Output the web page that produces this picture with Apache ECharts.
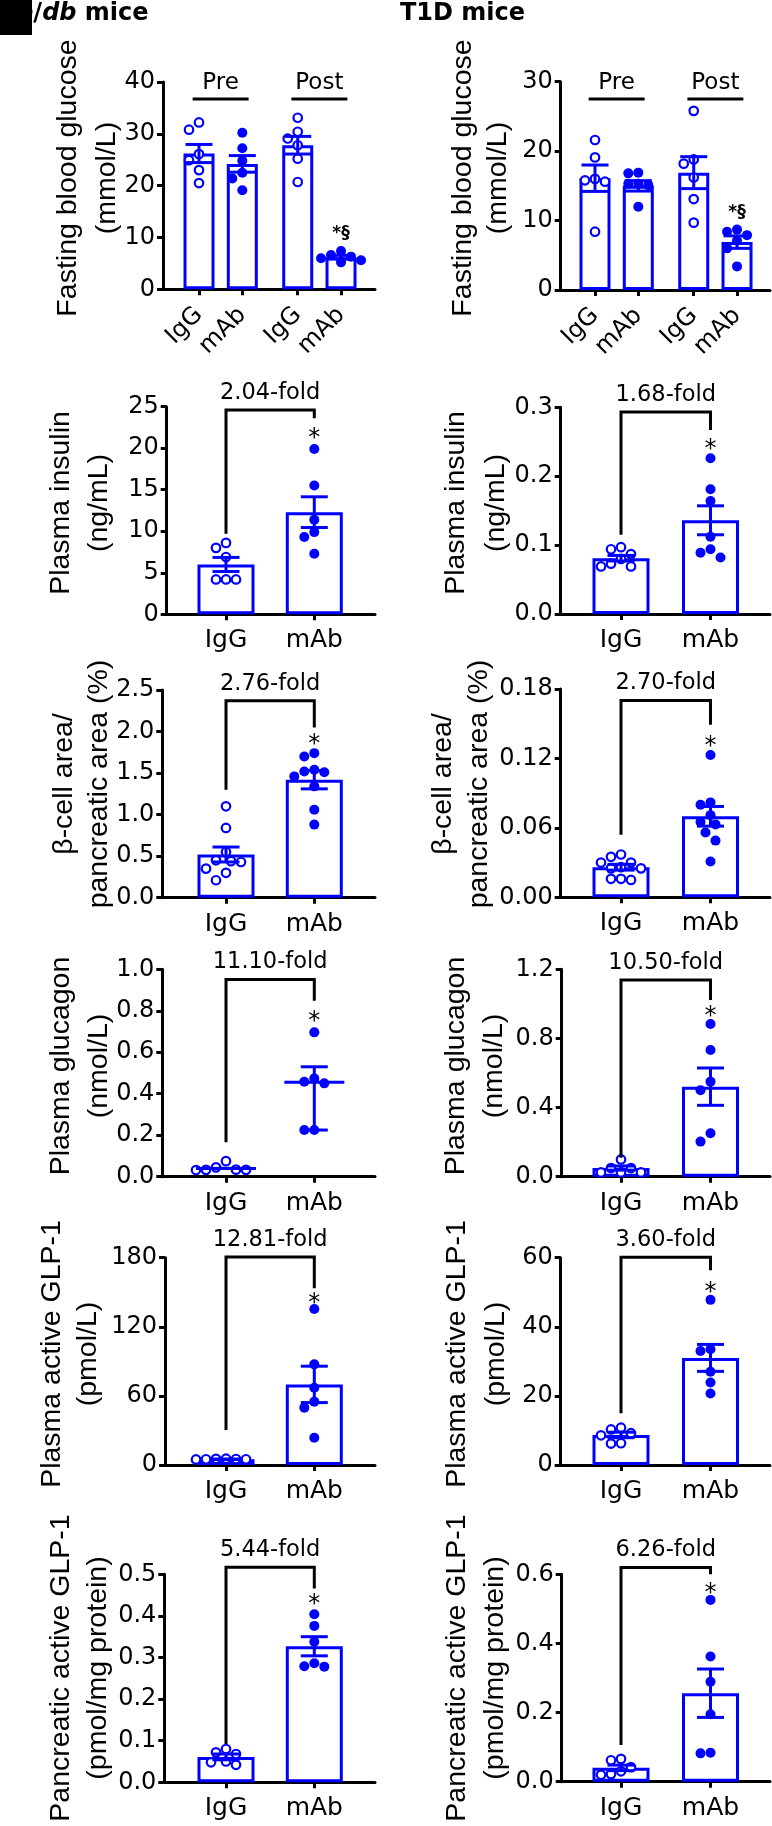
<!DOCTYPE html>
<html><head><meta charset="utf-8">
<script src="https://cdn.jsdelivr.net/npm/echarts@6/dist/echarts.min.js"></script>
<style>html,body{margin:0;padding:0;background:#fff}#c{width:772px;height:1826px}</style>
</head><body><div id="c"></div>
<script>
// ================= DATA =================
const labels4 = ['IgG', 'mAb', 'IgG', 'mAb'];
const labels2 = ['IgG', 'mAb'];
const phaseLabels = ['Pre', 'Post'];

// db/db fasting blood glucose (mmol/L)
const dbGlucoseTicks = ['0', '10', '20', '30', '40'];
const dbGlucoseMean = [26.2, 24.2, 27.8, 6.2];
const dbGlucoseSem = [1.75, 1.6, 1.7, 0.35];
const dbGlucoseDots = [
  [30.8, 32.2, 26.1, 24.9, 23.0, 20.5],
  [30.2, 27.2, 24.8, 22.5, 21.4, 19.1],
  [33.1, 29.1, 30.4, 27.8, 25.2, 20.7],
  [7.4, 6.6, 6.3, 6.0, 5.2, 5.6]
];
const dbGlucosePhaseY = [36.7, 36.7];
const dbGlucoseMarkY = 10.8;

// T1D fasting blood glucose (mmol/L)
const t1dGlucoseTicks = ['0', '10', '20', '30'];
const t1dGlucoseMean = [16.1, 15.0, 16.9, 6.9];
const t1dGlucoseSem = [1.9, 0.75, 2.3, 0.9];
const t1dGlucoseDots = [
  [21.6, 19.1, 15.8, 15.6, 16.0, 8.4],
  [16.8, 16.9, 15.3, 15.1, 15.3, 12.0],
  [25.8, 18.8, 18.2, 16.2, 13.1, 9.7],
  [8.7, 7.9, 8.4, 7.1, 6.0, 3.4]
];
const t1dGlucosePhaseY = [27.5, 27.5];
const t1dGlucoseMarkY = 11.1;

// Plasma insulin (ng/mL)
const dbInsulinTicks = ['0', '5', '10', '15', '20', '25'];
const dbInsulinMean = [6.0, 12.3];
const dbInsulinSem = [0.85, 1.85];
const dbInsulinDots = [[8.6, 8.0, 6.9, 4.2, 4.2, 4.2], [19.9, 15.5, 11.4, 9.9, 9.3, 7.3]];
const dbInsulinBracket = [9.7, 24.6, 23.6, 21.9];
const t1dInsulinTicks = ['0.0', '0.1', '0.2', '0.3'];
const t1dInsulinMean = [0.081, 0.136];
const t1dInsulinSem = [0.004, 0.021];
const t1dInsulinDots = [[0.097, 0.094, 0.087, 0.080, 0.073, 0.069, 0.069], [0.226, 0.181, 0.164, 0.112, 0.094, 0.089, 0.082]];
const t1dInsulinBracket = [0.115, 0.293, 0.267, 0.247];

// beta-cell area / pancreatic area (%)
const dbBetaTicks = ['0.0', '0.5', '1.0', '1.5', '2.0', '2.5'];
const dbBetaMean = [0.52, 1.42];
const dbBetaSem = [0.09, 0.11];
const dbBetaDots = [[1.10, 0.84, 0.55, 0.45, 0.44, 0.43, 0.35, 0.30, 0.21], [1.74, 1.70, 1.54, 1.52, 1.51, 1.46, 1.34, 1.06, 0.88]];
const dbBetaBracket = [1.30, 2.37, 2.05, 1.91];
const t1dBetaTicks = ['0.00', '0.06', '0.12', '0.18'];
const t1dBetaMean = [0.026, 0.070];
const t1dBetaSem = [0.0025, 0.0085];
const t1dBetaDots = [[0.037, 0.035, 0.030, 0.030, 0.026, 0.025, 0.025, 0.016, 0.016, 0.015], [0.123, 0.082, 0.080, 0.071, 0.065, 0.063, 0.056, 0.049, 0.031]];
const t1dBetaBracket = [0.054, 0.170, 0.149, 0.135];

// Plasma glucagon (nmol/L)
const dbGlucagonTicks = ['0.0', '0.2', '0.4', '0.6', '0.8', '1.0'];
const dbGlucagonCenter = [0.040, 0.455];
const dbGlucagonLow = [0.040, 0.225];
const dbGlucagonHigh = [0.040, 0.530];
const dbGlucagonDots = [[0.075, 0.045, 0.034, 0.033, 0.033, 0.032], [0.696, 0.474, 0.458, 0.450, 0.225, 0.225]];
const dbGlucagonBracket = [0.166, 0.951, 0.848, 0.775];
const t1dGlucagonTicks = ['0.0', '0.4', '0.8', '1.2'];
const t1dGlucagonMean = [0.050, 0.521];
const t1dGlucagonSem = [0.012, 0.108];
const t1dGlucagonDots = [[0.10, 0.05, 0.05, 0.025, 0.025, 0.025], [0.884, 0.733, 0.55, 0.50, 0.251, 0.203]];
const t1dGlucagonBracket = [0.11, 1.138, 1.023, 0.96];

// Plasma active GLP-1 (pmol/L)
const dbGlp1Ticks = ['0', '60', '120', '180'];
const dbGlp1Mean = [5.0, 70.0];
const dbGlp1Sem = [0.2, 15.8];
const dbGlp1Dots = [[5.5, 5.2, 5.0, 4.8, 5.0, 5.4], [135.4, 87.4, 67.1, 55.0, 49.8, 23.7]];
const dbGlp1Bracket = [30.4, 180.5, 153.4, 145.2];
const t1dGlp1Ticks = ['0', '20', '40', '60'];
const t1dGlp1Mean = [8.7, 31.0];
const t1dGlp1Sem = [0.8, 3.9];
const t1dGlp1Dots = [[10.3, 10.8, 9.2, 8.6, 6.2, 6.3], [47.8, 33.0, 33.5, 27.0, 23.9, 20.7]];
const t1dGlp1Bracket = [15.0, 60.1, 56.4, 51.6];

// Pancreatic active GLP-1 (pmol/mg protein)
const dbPancTicks = ['0.0', '0.1', '0.2', '0.3', '0.4', '0.5'];
const dbPancMean = [0.061, 0.327];
const dbPancSem = [0.007, 0.023];
const dbPancDots = [[0.080, 0.072, 0.068, 0.050, 0.048, 0.042], [0.404, 0.376, 0.338, 0.286, 0.279, 0.278]];
const dbPancBracket = [0.092, 0.517, 0.466, 0.44];
const t1dPancTicks = ['0.0', '0.2', '0.4', '0.6'];
const t1dPancMean = [0.040, 0.256];
const t1dPancSem = [0.008, 0.07];
const t1dPancDots = [[0.066, 0.062, 0.042, 0.030, 0.022, 0.020], [0.526, 0.362, 0.289, 0.195, 0.084, 0.082]];
const t1dPancBracket = [0.106, 0.62, 0.60, 0.56];

// ================= CHART =================
const BLUE = '#0000ff';
const FONT = '"DejaVu Sans", sans-serif';
const NAME_FONT = '"Liberation Sans", Arial, sans-serif';
const chart = echarts.init(document.getElementById('c'), null, {renderer: 'canvas', width: 772, height: 1826});
const option = {animation: false, backgroundColor: '#ffffff', grid: [], xAxis: [], yAxis: [], series: [], graphic: []};

function nearestIndex(arr, v) {
  let b = 0;
  for (let k = 1; k < arr.length; k++) if (Math.abs(arr[k] - v) < Math.abs(arr[b] - v)) b = k;
  return b;
}
// simple beeswarm: horizontal pixel offsets so that dots do not overlap
function swarm(vals, ppu) {
  const D = 10, STEP = 5, placed = [], off = vals.map(() => 0);
  const order = vals.map((v, k) => k).sort((a, b) => vals[b] - vals[a]);
  for (const k of order) {
    const y = vals[k] * ppu;
    for (let n = 0; n < 60; n++) {
      const c = n === 0 ? 0 : (n % 2 ? -1 : 1) * Math.ceil(n / 2) * STEP;
      if (placed.every(p => Math.hypot(p[0] - c, p[1] - y) >= D)) { off[k] = c; placed.push([c, y]); break; }
    }
  }
  return off;
}
const sub = (a, b) => a.map((v, k) => v - b[k]);
const add = (a, b) => a.map((v, k) => v + b[k]);

function addPanel(p) {
  const i = option.grid.length;
  const tv = p.ticks.map(Number);
  const yMin = tv[0], yMax = tv[tv.length - 1], yInt = tv[1] - tv[0];
  const h = p.bottom - p.top;
  option.grid.push({left: p.left, top: p.top, width: p.right - p.left, height: h, containLabel: false, outerBoundsMode: 'none'});
  const pos = p.pos;
  const xMin = pos[0] - (p.tick0 - p.left) / p.unit;
  const xMax = pos[0] + (p.right - p.tick0) / p.unit;
  option.xAxis.push({
    type: 'value', gridIndex: i, min: xMin, max: xMax, splitLine: {show: false},
    axisLine: {show: true, onZero: false, lineStyle: {color: '#000', width: 3}},
    axisTick: {show: true, customValues: pos, length: 6, lineStyle: {color: '#000', width: 3}},
    axisLabel: {show: true, customValues: pos, formatter: v => p.labels[nearestIndex(pos, v)],
      rotate: p.rotate || 0, margin: p.rotate ? 22 : 14, color: '#000', fontSize: p.rotate ? 24 : 25, fontFamily: FONT}
  });
  option.yAxis.push({
    type: 'value', gridIndex: i, min: yMin, max: yMax, interval: yInt,
    axisLine: {show: true, onZero: false, lineStyle: {color: '#000', width: 3}},
    axisTick: {show: true, length: 6, lineStyle: {color: '#000', width: 3}},
    axisLabel: {show: true, margin: 8, fontSize: 24, fontFamily: FONT, color: '#000', formatter: v => p.ticks[nearestIndex(tv, v)]},
    splitLine: {show: false}
  });
  // y-axis title: two rotated lines
  p.yName.forEach((t, k) => option.graphic.push({type: 'text', x: p.nameX[k], y: p.nameY, rotation: Math.PI / 2, z: 10, silent: true,
    style: {text: t, fontSize: 28.5, fontFamily: NAME_FONT, fill: '#000', align: 'center', verticalAlign: 'middle'}}));
  const xy = {xAxisIndex: i, yAxisIndex: i};
  if (p.mean) {
    option.series.push({type: 'bar', ...xy, barWidth: p.barW, z: 1, silent: true,
      data: pos.map((x, g) => [x, p.mean[g]]),
      itemStyle: {color: '#ffffff', borderColor: BLUE, borderWidth: 3}});
  }
  const ppu = h / (yMax - yMin);
  [true, false].forEach(open => {
    const data = [];
    p.dots.forEach((vals, g) => {
      if (p.open[g] !== open) return;
      const off = swarm(vals, ppu);
      vals.forEach((v, k) => data.push({value: [pos[g], v], symbolOffset: [off[k], 0]}));
    });
    option.series.push({type: 'scatter', ...xy, z: 3, silent: true, symbol: 'circle',
      symbolSize: open ? 8.5 : 10, data,
      itemStyle: open ? {color: '#ffffff', borderColor: BLUE, borderWidth: 2.2, opacity: 1} : {color: BLUE, opacity: 1}});
  });
  const center = p.center || p.mean;
  const lo = p.lo || sub(p.mean, p.sem);
  const hi = p.hi || add(p.mean, p.sem);
  option.series.push({type: 'custom', ...xy, z: 4, silent: true, clip: false,
    data: pos.map((x, g) => [x, center[g], lo[g], hi[g]]),
    renderItem: (params, api) => {
      const x = api.value(0);
      const pc = api.coord([x, api.value(1)]), pl = api.coord([x, api.value(2)]), ph = api.coord([x, api.value(3)]);
      const cw = 13.5, st = {stroke: BLUE, lineWidth: 3};
      const ch = [
        {type: 'line', shape: {x1: pl[0], y1: pl[1], x2: ph[0], y2: ph[1]}, style: st},
        {type: 'line', shape: {x1: pl[0] - cw, y1: pl[1], x2: pl[0] + cw, y2: pl[1]}, style: st},
        {type: 'line', shape: {x1: ph[0] - cw, y1: ph[1], x2: ph[0] + cw, y2: ph[1]}, style: st}
      ];
      if (p.meanLine) ch.push({type: 'line', shape: {x1: pc[0] - 30, y1: pc[1], x2: pc[0] + 30, y2: pc[1]}, style: st});
      return {type: 'group', children: ch};
    }});
  if (p.bracket) {
    const b = p.bracket;
    option.series.push({type: 'custom', ...xy, z: 5, silent: true, clip: false,
      data: [[pos[0], pos[1], b[0], b[1], b[2], b[3]]],
      renderItem: (params, api) => {
        const a = api.coord([api.value(0), api.value(2)]);
        const t1 = api.coord([api.value(0), api.value(3)]);
        const t2 = api.coord([api.value(1), api.value(3)]);
        const d = api.coord([api.value(1), api.value(4)]);
        const s = api.coord([api.value(1), api.value(5)]);
        return {type: 'group', children: [
          {type: 'polyline', shape: {points: [a, t1, t2, d]}, style: {stroke: '#000', lineWidth: 3, fill: null}},
          {type: 'text', x: (t1[0] + t2[0]) / 2, y: t1[1] - 17,
            style: {text: p.fold, fontSize: 22.5, fontFamily: FONT, fill: '#000', align: 'center', verticalAlign: 'middle'}},
          {type: 'text', x: s[0], y: s[1] + 6,
            style: {text: '*', fontSize: 24, fontFamily: FONT, fill: '#000', align: 'center', verticalAlign: 'middle'}}
        ]};
      }});
  }
  if (p.phaseY) {
    option.series.push({type: 'custom', ...xy, z: 5, silent: true, clip: false,
      data: phaseLabels.map((t, k) => [(pos[2 * k] + pos[2 * k + 1]) / 2, p.phaseY[k]]),
      renderItem: (params, api) => {
        const c = api.coord([api.value(0), api.value(1)]);
        const hw = 28;
        return {type: 'group', children: [
          {type: 'line', shape: {x1: c[0] - hw, y1: c[1], x2: c[0] + hw, y2: c[1]}, style: {stroke: '#000', lineWidth: 3}},
          {type: 'text', x: c[0], y: c[1] - 16,
            style: {text: phaseLabels[params.dataIndex], fontSize: 23, fontFamily: FONT, fill: '#000', align: 'center', verticalAlign: 'middle'}}
        ]};
      }});
    option.series.push({type: 'custom', ...xy, z: 5, silent: true, clip: false,
      data: [[pos[3], p.markY]],
      renderItem: (params, api) => {
        const c = api.coord([api.value(0), api.value(1)]);
        return {type: 'text', x: c[0], y: c[1],
          style: {text: '*§', fontSize: 17, fontWeight: 'bold', fontFamily: FONT, fill: '#000', align: 'center', verticalAlign: 'middle'}};
      }});
  }
}

const L = {right: 375, tick0: 226, unit: 88.3, barW: 57, pos: [1, 2], labels: labels2, open: [true, false]};
const R = {right: 770, tick0: 621, unit: 89.5, barW: 57, pos: [1, 2], labels: labels2, open: [true, false]};
const G4 = {pos: [1, 2, 3.28, 4.28], labels: labels4, open: [true, false, true, false], barW: 31, unit: 43.3, rotate: 45};

// Row 1
addPanel({...G4, right: 375, tick0: 199, left: 163, top: 82, bottom: 289.3, ticks: dbGlucoseTicks,
  mean: dbGlucoseMean, sem: dbGlucoseSem, dots: dbGlucoseDots, phaseY: dbGlucosePhaseY, markY: dbGlucoseMarkY,
  yName: ['Fasting blood glucose', '(mmol/L)'], nameX: [68, 107], nameY: 178});
addPanel({...G4, right: 770, tick0: 595, left: 560.7, top: 81.7, bottom: 290, ticks: t1dGlucoseTicks,
  mean: t1dGlucoseMean, sem: t1dGlucoseSem, dots: t1dGlucoseDots, phaseY: t1dGlucosePhaseY, markY: t1dGlucoseMarkY,
  yName: ['Fasting blood glucose', '(mmol/L)'], nameX: [463, 498], nameY: 178});
// Row 2
addPanel({...L, left: 166.7, top: 406.7, bottom: 614.3, ticks: dbInsulinTicks, mean: dbInsulinMean, sem: dbInsulinSem,
  dots: dbInsulinDots, bracket: dbInsulinBracket, fold: '2.04-fold', yName: ['Plasma insulin', '(ng/mL)'], nameX: [61, 99], nameY: 503});
addPanel({...R, left: 560.7, top: 407.3, bottom: 614, ticks: t1dInsulinTicks, mean: t1dInsulinMean, sem: t1dInsulinSem,
  dots: t1dInsulinDots, bracket: t1dInsulinBracket, fold: '1.68-fold', yName: ['Plasma insulin', '(ng/mL)'], nameX: [456, 496], nameY: 503});
// Row 3
addPanel({...L, left: 162.3, top: 690, bottom: 897.7, ticks: dbBetaTicks, mean: dbBetaMean, sem: dbBetaSem,
  dots: dbBetaDots, bracket: dbBetaBracket, fold: '2.76-fold', yName: ['β-cell area/', 'pancreatic area (%)'], nameX: [64, 99], nameY: 784});
addPanel({...R, left: 560.7, top: 689, bottom: 897.3, ticks: t1dBetaTicks, mean: t1dBetaMean, sem: t1dBetaSem,
  dots: t1dBetaDots, bracket: t1dBetaBracket, fold: '2.70-fold', yName: ['β-cell area/', 'pancreatic area (%)'], nameX: [443, 479], nameY: 784});
// Row 4
addPanel({...L, left: 162.3, top: 969.3, bottom: 1176.7, ticks: dbGlucagonTicks, center: dbGlucagonCenter,
  lo: dbGlucagonLow, hi: dbGlucagonHigh, meanLine: true, dots: dbGlucagonDots, bracket: dbGlucagonBracket,
  fold: '11.10-fold', yName: ['Plasma glucagon', '(nmol/L)'], nameX: [61, 99], nameY: 1066});
addPanel({...R, left: 561.7, top: 969.3, bottom: 1176.7, ticks: t1dGlucagonTicks, mean: t1dGlucagonMean, sem: t1dGlucagonSem,
  dots: t1dGlucagonDots, bracket: t1dGlucagonBracket, fold: '10.50-fold', yName: ['Plasma glucagon', '(nmol/L)'], nameX: [456, 494], nameY: 1066});
// Row 5
addPanel({...L, left: 165, top: 1257.7, bottom: 1465, ticks: dbGlp1Ticks, mean: dbGlp1Mean, sem: dbGlp1Sem,
  dots: dbGlp1Dots, bracket: dbGlp1Bracket, fold: '12.81-fold', yName: ['Plasma active GLP-1', '(pmol/L)'], nameX: [52, 88], nameY: 1354});
addPanel({...R, left: 560.7, top: 1257.7, bottom: 1465, ticks: t1dGlp1Ticks, mean: t1dGlp1Mean, sem: t1dGlp1Sem,
  dots: t1dGlp1Dots, bracket: t1dGlp1Bracket, fold: '3.60-fold', yName: ['Plasma active GLP-1', '(pmol/L)'], nameX: [457, 496], nameY: 1354});
// Row 6
addPanel({...L, left: 164.3, top: 1574.3, bottom: 1782.3, ticks: dbPancTicks, mean: dbPancMean, sem: dbPancSem,
  dots: dbPancDots, bracket: dbPancBracket, fold: '5.44-fold', yName: ['Pancreatic active GLP-1', '(pmol/mg protein)'], nameX: [61, 98], nameY: 1668});
addPanel({...R, left: 561.7, top: 1574.3, bottom: 1781.7, ticks: t1dPancTicks, mean: t1dPancMean, sem: t1dPancSem,
  dots: t1dPancDots, bracket: t1dPancBracket, fold: '6.26-fold', yName: ['Pancreatic active GLP-1', '(pmol/mg protein)'], nameX: [457, 495], nameY: 1668});

// Headers
option.graphic.push(
  {type: 'text', x: -1, y: 2, z: 10, style: {text: '{i|db}/{i|db} mice', fontSize: 24, fontWeight: 'bold', fontFamily: FONT, fill: '#000',
    verticalAlign: 'top', rich: {i: {fontSize: 24, fontWeight: 'bold', fontStyle: 'italic', fontFamily: FONT, fill: '#000'}}}},
  {type: 'rect', z: 11, shape: {x: 0, y: 0, width: 32, height: 35}, style: {fill: '#000'}},
  {type: 'text', x: 400, y: 2, z: 10, style: {text: 'T1D mice', fontSize: 24, fontWeight: 'bold', fontFamily: FONT, fill: '#000', verticalAlign: 'top'}}
);

chart.setOption(option);
</script>
</body></html>
